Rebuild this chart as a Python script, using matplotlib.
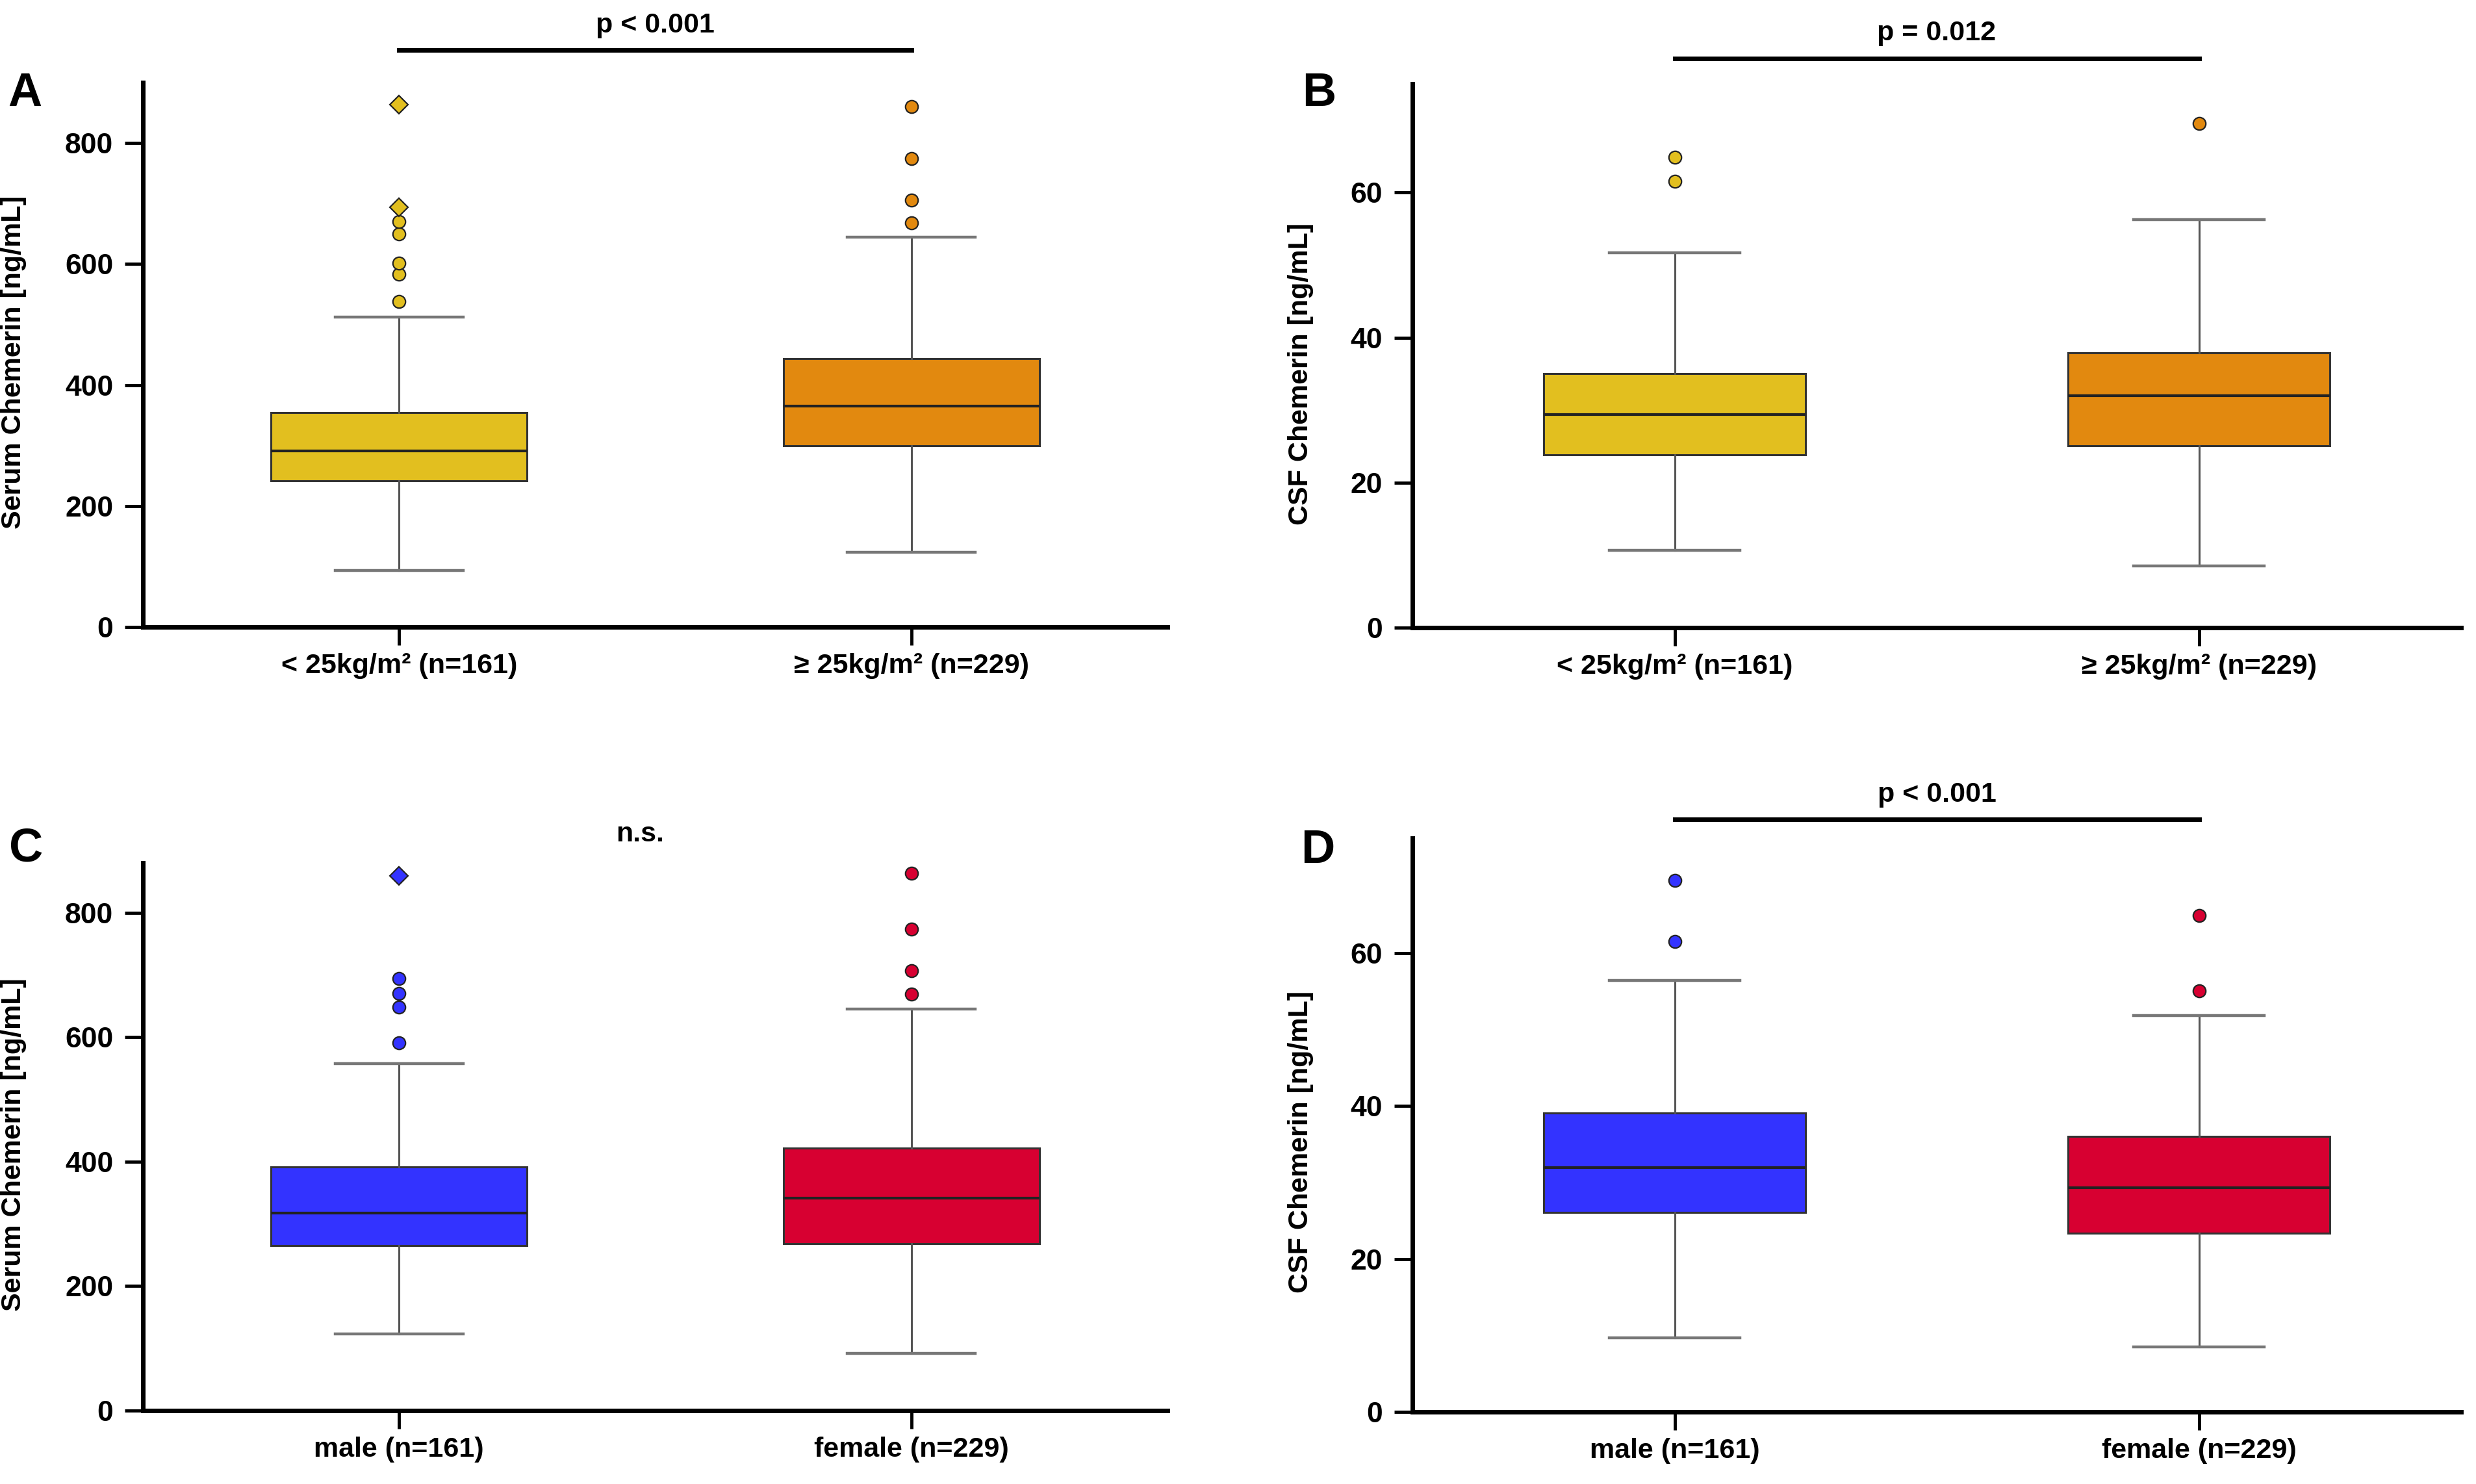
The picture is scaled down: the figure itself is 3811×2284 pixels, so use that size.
import numpy as np
import matplotlib
matplotlib.use('Agg')
import matplotlib.pyplot as plt

plt.rcParams['font.family'] = ['Liberation Sans', 'DejaVu Sans']

# ---- data ----
bmi_labels = ['< 25kg/m\u00b2 (n=161)', '\u2265 25kg/m\u00b2 (n=229)']
sex_labels = ['male (n=161)', 'female (n=229)']

# A: serum chemerin by BMI
serum_bmi_q1 = [242, 300]
serum_bmi_med = [291, 365]
serum_bmi_q3 = [354, 444]
serum_bmi_lo = [93, 123]
serum_bmi_hi = [512, 644]
serum_bmi_out = [[538, 583, 601, 650, 670], [668, 706, 774, 860]]
serum_bmi_ext = [[694, 863], []]

# B: CSF chemerin by BMI
csf_bmi_q1 = [23.8, 25.1]
csf_bmi_med = [29.4, 32.0]
csf_bmi_q3 = [35.0, 37.9]
csf_bmi_lo = [10.7, 8.5]
csf_bmi_hi = [51.7, 56.3]
csf_bmi_out = [[61.6, 64.9], [69.5]]
csf_bmi_ext = [[], []]

# C: serum chemerin by sex
serum_sex_q1 = [265, 268]
serum_sex_med = [317, 341]
serum_sex_q3 = [391, 422]
serum_sex_lo = [123, 92]
serum_sex_hi = [557, 645]
serum_sex_out = [[591, 648, 670, 694], [669, 707, 774, 863]]
serum_sex_ext = [[859], []]

# D: CSF chemerin by sex
csf_sex_q1 = [26.1, 23.4]
csf_sex_med = [31.9, 29.3]
csf_sex_q3 = [39.1, 36.0]
csf_sex_lo = [9.7, 8.5]
csf_sex_hi = [56.4, 51.8]
csf_sex_out = [[61.5, 69.5], [55.0, 64.9]]
csf_sex_ext = [[], []]

bmi_colors = ['#E2BF1F', '#E2890F']
sex_colors = ['#3333FF', '#D70031']

W, H = 3811, 2284


def px_rect(left, right, top, bottom):
    return [left / W, 1 - bottom / H, (right - left) / W, (bottom - top) / H]


def draw_panel(ax, labels, q1, med, q3, lo, hi, out, ext, colors,
               ytop, yticks, ylabel, letter_xy, letter, ptext=None,
               pline=None, ptext_y=None, ptext_x=0.5, ylabel_xy=(-0.11, 0.485)):
    stats = []
    for i in range(len(labels)):
        stats.append(dict(q1=q1[i], med=med[i], q3=q3[i], whislo=lo[i],
                          whishi=hi[i], fliers=out[i], label=labels[i]))
    bp = ax.bxp(stats, positions=[0, 1], widths=0.5, capwidths=0.25,
                patch_artist=True, showfliers=True,
                boxprops=dict(edgecolor='#333333', linewidth=2.2),
                medianprops=dict(color='#222222', linewidth=3),
                whiskerprops=dict(color='#555555', linewidth=2.2),
                capprops=dict(color='#777777', linewidth=3.2),
                flierprops=dict(marker='o', markersize=14,
                                markeredgecolor='#222222', markeredgewidth=1.6))
    for i, box in enumerate(bp['boxes']):
        box.set_facecolor(colors[i])
        bp['fliers'][i].set_markerfacecolor(colors[i])
        if ext[i]:
            ax.plot([i] * len(ext[i]), ext[i], linestyle='none', marker='D',
                    markersize=14, markerfacecolor=colors[i],
                    markeredgecolor='#222222', markeredgewidth=1.6, zorder=3)

    ax.set_xlim(-0.5, 1.5)
    ax.set_ylim(0, ytop)
    ax.set_yticks(yticks)
    ax.set_xticks([0, 1])
    ax.set_xticklabels(labels, fontsize=31, fontweight='bold')
    for t in ax.get_yticklabels():
        t.set_fontsize(32)
        t.set_fontweight('bold')
    ax.tick_params(axis='both', direction='out', length=20, width=3.5, color='black')
    ax.tick_params(axis='y', pad=13)
    ax.tick_params(axis='x', pad=9)
    for s in ['top', 'right']:
        ax.spines[s].set_visible(False)
    for s in ['left', 'bottom']:
        ax.spines[s].set_linewidth(5)
        ax.spines[s].set_color('black')

    ax.set_ylabel(ylabel, fontsize=31, fontweight='bold',
                  family=['Liberation Sans Narrow', 'Liberation Sans'])
    ax.yaxis.set_label_coords(*ylabel_xy)

    tr = ax.get_xaxis_transform()
    if pline is not None:
        ax.plot([0, 1], [pline, pline], color='black', linewidth=5,
                transform=tr, clip_on=False)
    if ptext is not None:
        ax.text(ptext_x, ptext_y, ptext, transform=tr, ha='center', va='center',
                fontsize=31, fontweight='bold')

    fig.text(letter_xy[0], letter_xy[1], letter, fontsize=52, fontweight='bold',
             ha='left', va='baseline')


fig = plt.figure(figsize=(W / 100, H / 100), dpi=100)

axA = fig.add_axes(px_rect(220, 1797, 127, 965))
draw_panel(axA, bmi_labels, serum_bmi_q1, serum_bmi_med, serum_bmi_q3,
           serum_bmi_lo, serum_bmi_hi, serum_bmi_out, serum_bmi_ext, bmi_colors,
           900, [0, 200, 400, 600, 800], 'Serum Chemerin [ng/mL]',
           (12 / W, 1 - 163 / H), 'A', ptext='p < 0.001', pline=1.06,
           ptext_y=1.105, ylabel_xy=(-0.1135, 0.486))

axB = fig.add_axes(px_rect(2174, 3788, 129, 966))
draw_panel(axB, bmi_labels, csf_bmi_q1, csf_bmi_med, csf_bmi_q3,
           csf_bmi_lo, csf_bmi_hi, csf_bmi_out, csf_bmi_ext, bmi_colors,
           75, [0, 20, 40, 60], 'CSF Chemerin [ng/mL]',
           (2004 / W, 1 - 163 / H), 'B', ptext='p = 0.012', pline=1.047,
           ptext_y=1.093, ylabel_xy=(-0.094, 0.467))

axC = fig.add_axes(px_rect(220, 1797, 1328, 2171))
draw_panel(axC, sex_labels, serum_sex_q1, serum_sex_med, serum_sex_q3,
           serum_sex_lo, serum_sex_hi, serum_sex_out, serum_sex_ext, sex_colors,
           880, [0, 200, 400, 600, 800], 'Serum Chemerin [ng/mL]',
           (14 / W, 1 - 1325 / H), 'C', ptext='n.s.', pline=None,
           ptext_y=1.052, ptext_x=0.47, ylabel_xy=(-0.1135, 0.486))

axD = fig.add_axes(px_rect(2174, 3788, 1290, 2173))
draw_panel(axD, sex_labels, csf_sex_q1, csf_sex_med, csf_sex_q3,
           csf_sex_lo, csf_sex_hi, csf_sex_out, csf_sex_ext, sex_colors,
           75, [0, 20, 40, 60], 'CSF Chemerin [ng/mL]',
           (2002 / W, 1 - 1328 / H), 'D', ptext='p < 0.001', pline=1.033,
           ptext_y=1.076, ylabel_xy=(-0.094, 0.47))

fig.savefig('out.png', dpi=100, facecolor='white')
